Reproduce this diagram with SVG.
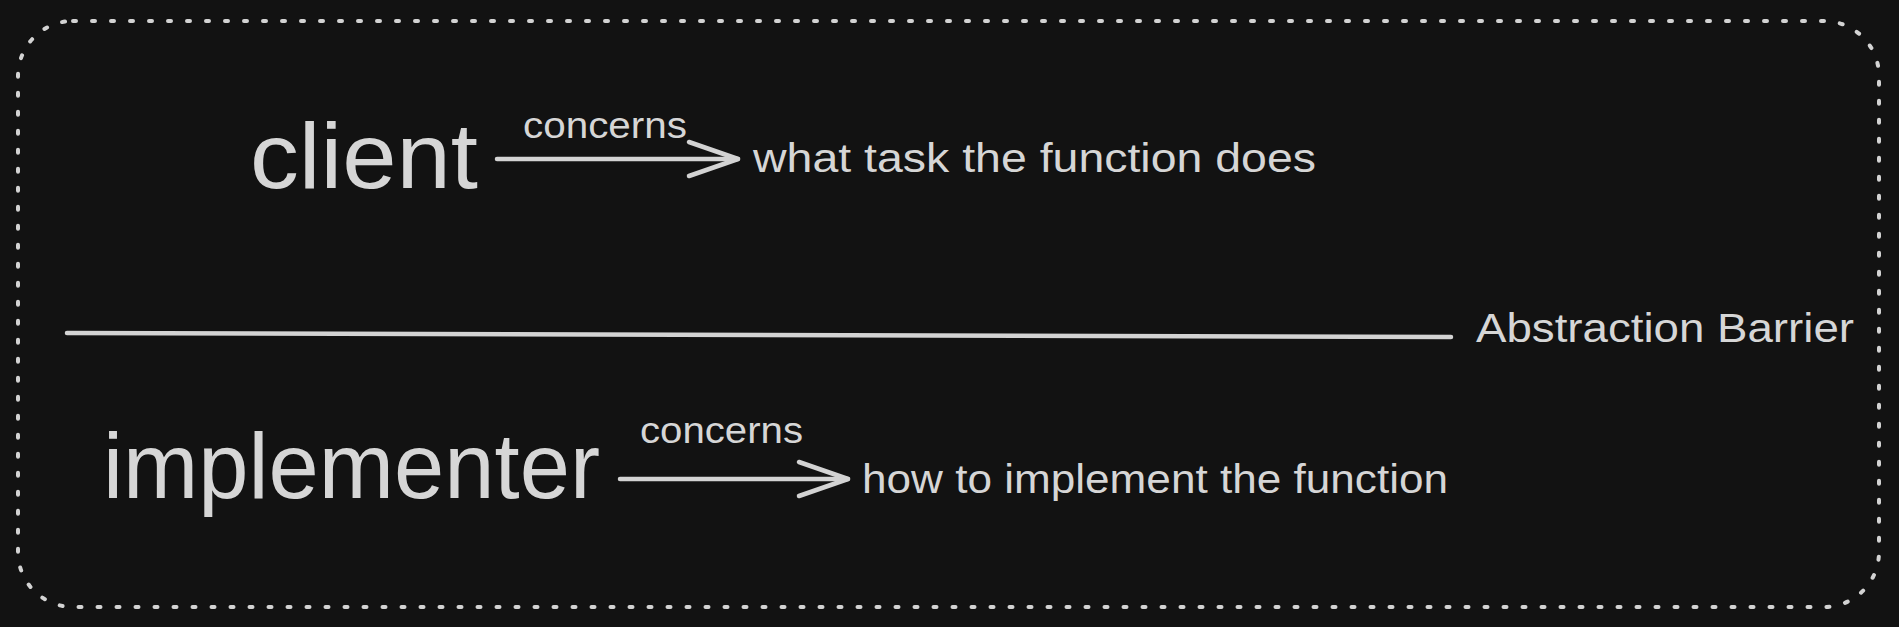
<svg xmlns="http://www.w3.org/2000/svg" width="1899" height="627" viewBox="0 0 1899 627">
  <style>
    .bg { fill: #121212; }
    .frame { fill: none; stroke: #d3d3d3; stroke-width: 4; stroke-dasharray: 3 16; stroke-linecap: round; }
    .line { fill: none; stroke: #d3d3d3; stroke-width: 4.5; stroke-linecap: round; }
    .t { fill: #d6d6d6; font-family: "Liberation Sans", Arial, sans-serif; }
    .big { font-size: 92px; }
    .mid { font-size: 40px; }
    .small { font-size: 36px; }
  </style>
  <defs>
    <marker id="head" viewBox="0 0 54 40" refX="51" refY="20" markerWidth="54" markerHeight="40" markerUnits="userSpaceOnUse" orient="auto" overflow="visible">
      <path d="M2,3 L51,20 L2,37" fill="none" stroke="#d3d3d3" stroke-width="4.5" stroke-linecap="round" stroke-linejoin="round"/>
    </marker>
  </defs>
  <rect class="bg" x="0" y="0" width="1899" height="627"/>
  <g id="frame">
    <rect class="frame" x="18" y="21" width="1861" height="586" rx="55" ry="55"/>
  </g>
  <g id="client">
    <text class="t big" x="250" y="188" textLength="228" lengthAdjust="spacingAndGlyphs">client</text>
  </g>
  <g id="client-concern">
    <text class="t mid" x="753" y="172" textLength="563" lengthAdjust="spacingAndGlyphs">what task the function does</text>
  </g>
  <g id="barrier">
    <line class="line" x1="67" y1="333" x2="1451" y2="337"/>
    <text class="t mid" x="1476" y="342" textLength="378" lengthAdjust="spacingAndGlyphs">Abstraction Barrier</text>
  </g>
  <g id="implementer">
    <text class="t big" x="103" y="498" textLength="497" lengthAdjust="spacingAndGlyphs">implementer</text>
  </g>
  <g id="implementer-concern">
    <text class="t mid" x="862" y="493" textLength="586" lengthAdjust="spacingAndGlyphs">how to implement the function</text>
  </g>
  <g id="connectors">
    <line class="line" x1="497" y1="159" x2="738" y2="159" marker-end="url(#head)"/>
    <text class="t small" x="523" y="138" textLength="164" lengthAdjust="spacingAndGlyphs">concerns</text>
    <line class="line" x1="620" y1="479" x2="848" y2="479" marker-end="url(#head)"/>
    <text class="t small" x="640" y="443" textLength="163" lengthAdjust="spacingAndGlyphs">concerns</text>
  </g>
</svg>
